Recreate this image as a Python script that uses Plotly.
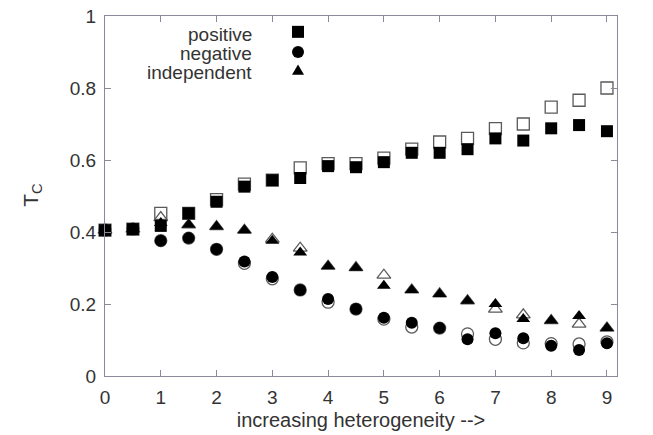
import plotly.graph_objects as go

x = [0, 0.5, 1, 1.5, 2, 2.5, 3, 3.5, 4, 4.5, 5, 5.5, 6, 6.5, 7, 7.5, 8, 8.5, 9]

pos_filled = [0.405, 0.408, 0.417, 0.452, 0.484, 0.526, 0.544, 0.55, 0.583, 0.58, 0.594, 0.62, 0.62, 0.63, 0.66, 0.654, 0.688, 0.697, 0.68]
pos_open = [0.405, 0.408, 0.452, 0.452, 0.49, 0.533, 0.544, 0.578, 0.59, 0.59, 0.605, 0.63, 0.65, 0.66, 0.687, 0.70, 0.747, 0.766, 0.80]

neg_filled = [0.405, 0.408, 0.376, 0.383, 0.352, 0.318, 0.275, 0.239, 0.214, 0.186, 0.162, 0.148, 0.133, 0.102, 0.119, 0.105, 0.084, 0.072, 0.091]
neg_open = [0.405, 0.408, 0.376, 0.383, 0.352, 0.313, 0.27, 0.239, 0.205, 0.186, 0.158, 0.136, 0.133, 0.117, 0.102, 0.092, 0.09, 0.089, 0.095]

ind_filled = [0.405, 0.408, 0.425, 0.42, 0.415, 0.405, 0.376, 0.343, 0.305, 0.301, 0.251, 0.239, 0.228, 0.209, 0.20, 0.158, 0.154, 0.167, 0.133]
ind_open = [0.405, 0.408, 0.44, 0.42, 0.415, 0.405, 0.38, 0.355, 0.305, 0.301, 0.28, 0.239, 0.228, 0.209, 0.186, 0.17, 0.154, 0.144, 0.133]

x_ticks = [0, 1, 2, 3, 4, 5, 6, 7, 8, 9]
y_ticks = [0, 0.2, 0.4, 0.6, 0.8, 1]
legend_labels = ["positive", "negative", "independent"]

FONT = "Liberation Sans, Arial, sans-serif"
OPEN_C = "#5a5a5a"
AXIS_C = "#8a8a9a"
TXT_C = "#333"
MS = 12

fig = go.Figure()

for yv, sym in [(pos_open, "square-open"), (neg_open, "circle-open"), (ind_open, "triangle-up-open")]:
    fig.add_trace(go.Scatter(x=x, y=yv, mode="markers", cliponaxis=False, showlegend=False,
                             marker=dict(symbol=sym, size=MS, color=OPEN_C, line=dict(width=1.3, color=OPEN_C))))

for yv, sym in [(pos_filled, "square"), (neg_filled, "circle"), (ind_filled, "triangle-up")]:
    fig.add_trace(go.Scatter(x=x, y=yv, mode="markers", cliponaxis=False, showlegend=False,
                             marker=dict(symbol=sym, size=MS, color="black", line=dict(width=0))))

# legend (text right-aligned, key to the right)
text_y = [0.95, 0.897, 0.844]
key_y = [0.956, 0.9, 0.85]
text_x = 0.291
key_x = 0.377
for lab, ly in zip(legend_labels, text_y):
    fig.add_annotation(x=text_x, y=ly, xref="paper", yref="paper", text=lab, showarrow=False,
                       xanchor="right", yanchor="middle", font=dict(family=FONT, size=19, color=TXT_C))

# legend keys as shapes
pw, ph = 512.0, 360.0
hw = 6 / pw
hh = 6 / ph
fig.add_shape(type="rect", xref="paper", yref="paper", x0=key_x - hw, x1=key_x + hw,
              y0=key_y[0] - hh, y1=key_y[0] + hh, fillcolor="black", line=dict(width=0))
fig.add_shape(type="circle", xref="paper", yref="paper", x0=key_x - hw, x1=key_x + hw,
              y0=key_y[1] - hh, y1=key_y[1] + hh, fillcolor="black", line=dict(width=0))
tri = "M {a},{b} L {c},{b} L {d},{e} Z".format(a=key_x - hw, c=key_x + hw, d=key_x,
                                               b=key_y[2] - hh * 0.8, e=key_y[2] + hh * 0.9)
fig.add_shape(type="path", xref="paper", yref="paper", path=tri, fillcolor="black", line=dict(width=0))

fig.add_annotation(x=-0.172, y=0.503, xref="paper", yref="paper", text="T<sub>C</sub>", showarrow=False,
                   textangle=-90, font=dict(family=FONT, size=21, color=TXT_C))

axis_common = dict(showline=True, linecolor=AXIS_C, linewidth=1.2, mirror="allticks", ticks="inside",
                   ticklen=6, tickcolor=AXIS_C, showgrid=False, zeroline=False, ticklabelstandoff=4,
                   automargin=False, tickfont=dict(family=FONT, size=19, color=TXT_C))

fig.update_xaxes(range=[0, 9.18], tickvals=x_ticks, **axis_common,
                 title=dict(text="increasing heterogeneity -->", font=dict(family=FONT, size=20, color=TXT_C), standoff=6))
fig.update_yaxes(range=[0, 1], tickvals=y_ticks, **axis_common)

fig.update_layout(width=653, height=435, margin=dict(l=105, r=36, t=16, b=59),
                  plot_bgcolor="white", paper_bgcolor="white", showlegend=False)

fig.write_html("out.html")
